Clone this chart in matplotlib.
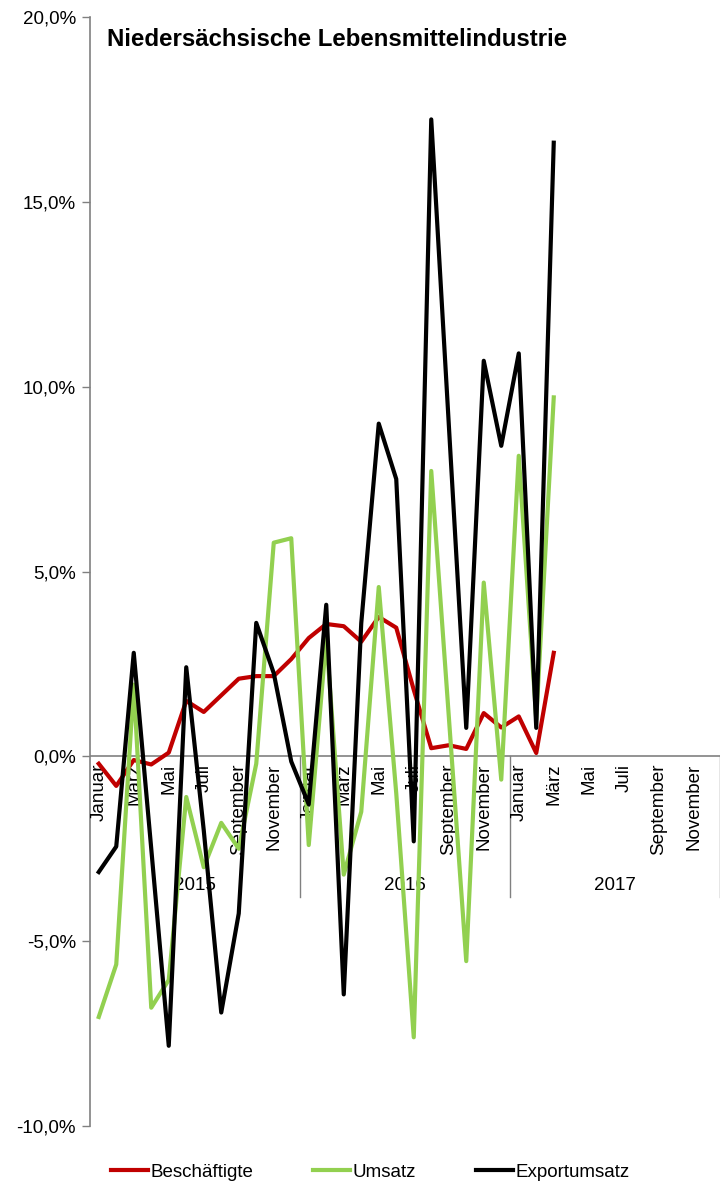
import matplotlib
matplotlib.use("Agg")
import matplotlib.pyplot as plt
from matplotlib.lines import Line2D

plt.rcParams['font.family'] = ['Liberation Sans', 'DejaVu Sans']

years = ["2015", "2016", "2017"]
month_names = ["Januar", "Februar", "März", "April", "Mai", "Juni", "Juli",
               "August", "September", "Oktober", "November", "Dezember"]
label_months = ["Januar", "März", "Mai", "Juli", "September", "November"]

# Monthly values Jan 2015 .. Mar 2017 (percent)
beschaeftigte = [-0.2, -0.8, -0.1, -0.22, 0.1, 1.5, 1.2, 1.65, 2.1, 2.17, 2.17, 2.63,
                 3.2, 3.58, 3.52, 3.1, 3.77, 3.48, 1.8, 0.22, 0.3, 0.2, 1.17, 0.78,
                 1.08, 0.09, 2.8]
umsatz = [-7.05, -5.63, 1.94, -6.8, -6.05, -1.1, -3.0, -1.8, -2.5, -0.2, 5.78, 5.9,
          -2.4, 3.2, -3.2, -1.5, 4.58, -1.0, -7.6, 7.72, 1.1, -5.54, 4.7, -0.63,
          8.13, 1.0, 9.71]
exportumsatz = [-3.13, -2.44, 2.8, -2.5, -7.83, 2.41, -2.0, -6.93, -4.25, 3.61, 2.25, -0.14,
                -1.3, 4.1, -6.44, 3.6, 9.0, 7.5, -2.3, 17.23, 9.0, 0.77, 10.7, 8.4,
                10.9, 0.77, 16.6]

yticks = [-10, -5, 0, 5, 10, 15, 20]

GRAY = "#808080"
fig = plt.figure(figsize=(7.2, 11.92), dpi=100)
ax = fig.add_axes([90/720, 1 - 1126/1192, 630/720, (1126 - 17)/1192])

n_months = 12 * len(years)
x = list(range(len(beschaeftigte)))
lw = 3.0
ax.plot(x, beschaeftigte, color="#C00000", lw=lw, zorder=4)
ax.plot(x, umsatz, color="#92D050", lw=lw, zorder=5)
ax.plot(x, exportumsatz, color="#000000", lw=lw, zorder=6)

ax.set_xlim(-0.5, n_months - 0.5)
ax.set_ylim(-10, 20)
ax.set_yticks(yticks)
ax.set_yticklabels([f"{v:.1f}%".replace(".", ",") for v in yticks], fontsize=13.5)
ax.tick_params(axis='y', direction='out', length=6, color=GRAY, width=1, pad=4)
ax.set_xticks([])
for s in ["top", "right", "bottom"]:
    ax.spines[s].set_visible(False)
ax.spines["left"].set_color(GRAY)
ax.spines["left"].set_linewidth(1.2)
ax.axhline(0, color=GRAY, lw=1.2, zorder=1)

# month labels
for yi in range(len(years)):
    for mi, m in enumerate(month_names):
        if m in label_months:
            ax.text(yi * 12 + mi, -0.2, m, rotation=90, ha='center', va='top',
                    fontsize=13.5, zorder=3)
    ax.text(yi * 12 + 5.5, -3.5, years[yi], ha='center', va='center',
            fontsize=13.5, zorder=3)
    xb = yi * 12 + 11.5
    ax.plot([xb, xb], [0, -3.8], color=GRAY, lw=1, clip_on=False, zorder=1)

fig.text(107/720, 1 - 40/1192, "Niedersächsische Lebensmittelindustrie",
         fontsize=17.3, fontweight='bold', ha='left', va='center')

handles = [Line2D([], [], color="#C00000", lw=3),
           Line2D([], [], color="#92D050", lw=3),
           Line2D([], [], color="#000000", lw=3)]
fig.legend(handles, ["Beschäftigte", "Umsatz", "Exportumsatz"], loc='center',
           bbox_to_anchor=(370/720, 1 - 1172/1192), ncol=3, frameon=False,
           fontsize=13.5, handlelength=2.0, handletextpad=0.1, columnspacing=3.2)

fig.savefig("out.png", dpi=100)
